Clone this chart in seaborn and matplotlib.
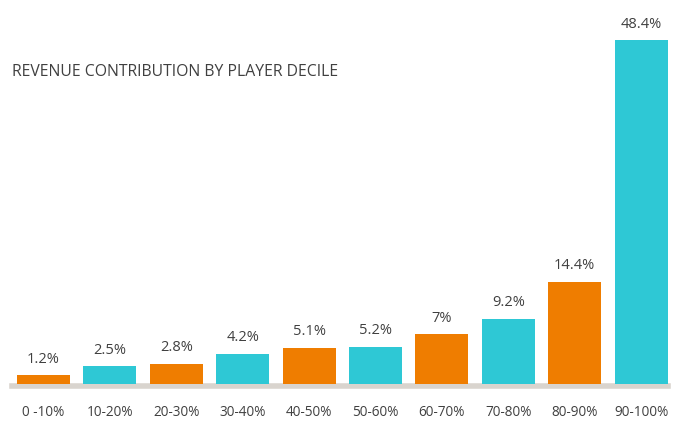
import matplotlib
matplotlib.use("Agg")
import matplotlib.pyplot as plt
import seaborn as sns
import pandas as pd

categories = ["0 -10%", "10-20%", "20-30%", "30-40%", "40-50%",
              "50-60%", "60-70%", "70-80%", "80-90%", "90-100%"]
values = [1.2, 2.5, 2.8, 4.2, 5.1, 5.2, 7.0, 9.2, 14.4, 48.4]
value_labels = ["1.2%", "2.5%", "2.8%", "4.2%", "5.1%", "5.2%", "7%", "9.2%", "14.4%", "48.4%"]
title = "REVENUE CONTRIBUTION BY PLAYER DECILE"

ORANGE = "#ef7d00"
CYAN = "#2ec8d5"
TEXT = "#404040"
colors = [ORANGE if i % 2 == 0 else CYAN for i in range(len(categories))]

sns.set_theme(style="white")
plt.rcParams["font.family"] = ["Open Sans", "DejaVu Sans"]

df = pd.DataFrame({"decile": categories, "share": values})

fig = plt.figure(figsize=(6.83, 4.35), dpi=100)
ax = fig.add_axes([12 / 683, 50 / 435, 656 / 683, 355 / 435])

sns.barplot(data=df, x="decile", y="share", hue="decile", palette=colors,
            legend=False, width=0.8, saturation=1, ax=ax, zorder=3,
            linewidth=0)

ax.set_xlim(-0.474, 9.405)
ax.set_ylim(0, 50)

for i, (v, lab) in enumerate(zip(values, value_labels)):
    ax.annotate(lab, (i, v), xytext=(0, 7), textcoords="offset points",
                ha="center", va="bottom", fontsize=10.5, color=TEXT)

for s in ["top", "right", "left"]:
    ax.spines[s].set_visible(False)
ax.spines["bottom"].set_color("#d9d4ce")
ax.spines["bottom"].set_linewidth(4)
ax.spines["bottom"].set_position(("outward", 1.5))
ax.spines["bottom"].set_zorder(2)

ax.set_yticks([])
ax.set_xlabel("")
ax.set_ylabel("")
ax.tick_params(axis="x", length=0, pad=13, labelsize=9.8, labelcolor=TEXT)

fig.text(12 / 683, 1 - 72 / 435, title, fontsize=11.3, color=TEXT,
         ha="left", va="center")

fig.savefig("out.png", dpi=100)
